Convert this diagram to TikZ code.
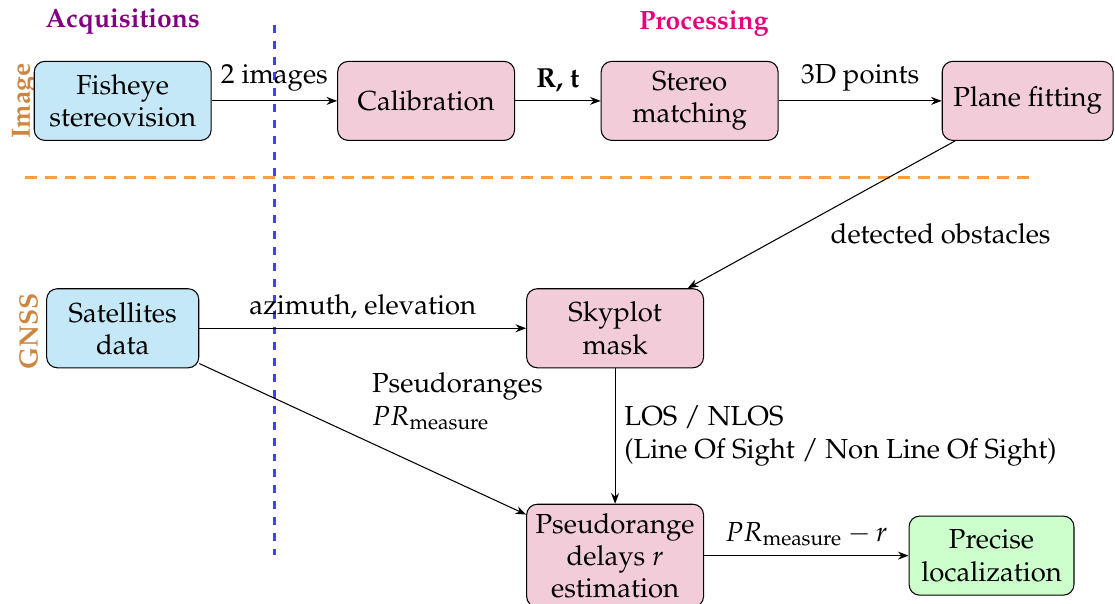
\documentclass[tikz,border=0pt]{standalone}
\usepackage[T1]{fontenc}
\usepackage{mathpazo}
\usetikzlibrary{arrows.meta,positioning}

\definecolor{acqblue}{RGB}{197,232,248}
\definecolor{procpink}{RGB}{242,204,217}
\definecolor{resgreen}{RGB}{204,255,204}
\definecolor{titleviolet}{RGB}{128,0,128}
\definecolor{titlemagenta}{RGB}{230,0,126}
\definecolor{rowlabel}{RGB}{205,133,63}

\tikzset{
  stepbox/.style={draw,rounded corners=4pt,align=center,minimum width=2.35cm,minimum height=1.05cm},
  acqbox/.style={stepbox,fill=acqblue},
  procbox/.style={stepbox,fill=procpink},
  resbox/.style={stepbox,fill=resgreen},
  rowtitle/.style={font=\bfseries,text=rowlabel,rotate=90},
}

\begin{document}
\begin{tikzpicture}[>={Stealth[length=4pt,width=3pt]},font=\fontsize{10.4pt}{12.2pt}\selectfont]
\useasboundingbox (0,0) rectangle (14.81,-8.02);

% column and row titles
\node[font=\bfseries,text=titleviolet] (acq) at (1.63,-0.29) {Acquisitions};
\node[font=\bfseries,text=titlemagenta] (proc) at (9.35,-0.31) {Processing};
\node[rowtitle] (imgrow) at (0.325,-1.34) {Image};
\node[rowtitle] (gnssrow) at (0.38,-4.40) {GNSS};

% separators
\draw[blue!75,dashed,line width=1pt] (3.65,-0.33) -- (3.65,-7.37);
\draw[orange!75,dash pattern=on 4.5pt off 3pt,line width=0.9pt] (0.33,-2.36) -- (13.68,-2.36);

% image branch
\node[acqbox] (fisheye) at (1.63,-1.34) {Fisheye\\stereovision};
\node[procbox] (calib) at (5.66,-1.34) {Calibration};
\node[procbox] (stereo) at (9.16,-1.34) {Stereo\\matching};
\node[procbox,minimum width=2.27cm] (plane) at (13.65,-1.34) {Plane fitting};

% gnss branch
\node[acqbox,minimum width=2.02cm] (sat) at (1.63,-4.36) {Satellites\\data};
\node[procbox] (sky) at (8.17,-4.36) {Skyplot\\mask};
\node[procbox] (pseudo) at (8.17,-7.38) {Pseudorange\\delays $r$\\estimation};
\node[resbox,minimum width=2.19cm] (precise) at (13.17,-7.38) {Precise\\localization};

\draw[->] (fisheye) -- node[above] {2 images} (calib);
\draw[->] (calib) -- node[above] {\textbf{R, t}} (stereo);
\draw[->] (stereo) -- node[above] {3D points} (plane);
\draw[->] (plane) -- node[below right] {detected obstacles} (sky);
\draw[->] (sat) -- node[above] {azimuth, elevation} (sky);
\draw[->] (sat) -- node[pos=0.5,above right,align=left] {Pseudoranges\\$PR_{\mathrm{measure}}$} (pseudo);
\draw[->] (sky) -- node[right,align=left] {LOS / NLOS\\(Line Of Sight / Non Line Of Sight)} (pseudo);
\draw[->] (pseudo) -- node[above] {$PR_{\mathrm{measure}}-r$} (precise);
\end{tikzpicture}
\end{document}
